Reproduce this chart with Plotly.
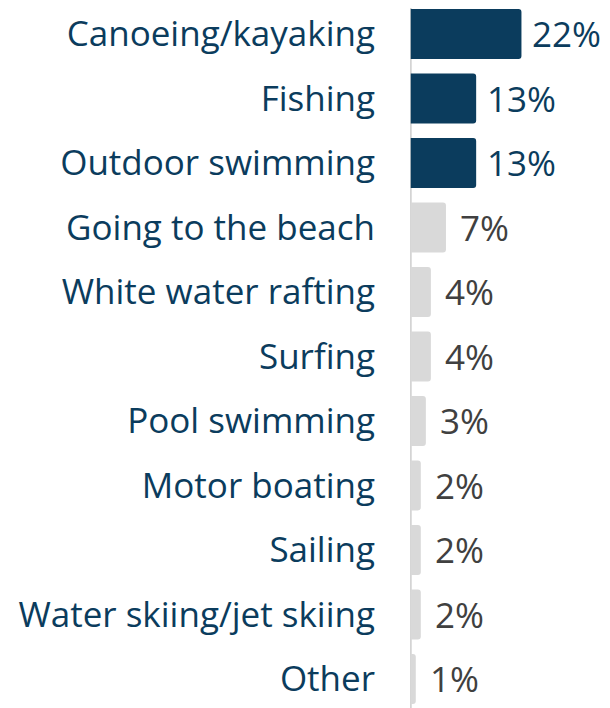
import plotly.graph_objects as go

CATEGORIES = [
    "Canoeing/kayaking",
    "Fishing",
    "Outdoor swimming",
    "Going to the beach",
    "White water rafting",
    "Surfing",
    "Pool swimming",
    "Motor boating",
    "Sailing",
    "Water skiing/jet skiing",
    "Other",
]
VALUES = [22, 13, 13, 7, 4, 4, 3, 2, 2, 2, 1]
HIGHLIGHT = [True, True, True, False, False, False, False, False, False, False, False]

NAVY = "#0b3c5d"
GREY_BAR = "#d9d9d9"
GREY_TEXT = "#404040"
FONT = "Open Sans"
SIZE = 35

bar_colors = [NAVY if h else GREY_BAR for h in HIGHLIGHT]
text_colors = [NAVY if h else GREY_TEXT for h in HIGHLIGHT]

fig = go.Figure(
    go.Bar(
        x=VALUES,
        y=CATEGORIES,
        orientation="h",
        marker=dict(color=bar_colors, cornerradius=3, line_width=0),
        hoverinfo="skip",
    )
)

for cat, val, col, hl in zip(CATEGORIES, VALUES, text_colors, HIGHLIGHT):
    fig.add_annotation(
        x=val,
        y=cat,
        text=f"{val}%",
        showarrow=False,
        xanchor="left",
        xshift=9 if hl else 12,
        font=dict(family=FONT, size=SIZE, color=col),
    )

# vertical baseline running the full height
fig.add_shape(
    type="line",
    xref="x",
    yref="paper",
    x0=0,
    x1=0,
    y0=0,
    y1=1.05,
    line=dict(color="#d4d4d4", width=2),
    layer="below",
)

fig.update_layout(
    width=602,
    height=700,
    margin=dict(l=402, r=0, t=0, b=0),
    plot_bgcolor="white",
    paper_bgcolor="white",
    bargap=0.225,
    showlegend=False,
    font=dict(family=FONT, size=SIZE, color=NAVY),
)
fig.update_xaxes(range=[-0.15, 39.6], visible=False)
fig.update_yaxes(
    range=[10.45, -0.403],
    showline=False,
    showgrid=False,
    zeroline=False,
    ticks="",
    ticklabelstandoff=34,
    tickfont=dict(family=FONT, size=SIZE, color=NAVY),
    automargin=False,
)

fig.write_html("out.html")
